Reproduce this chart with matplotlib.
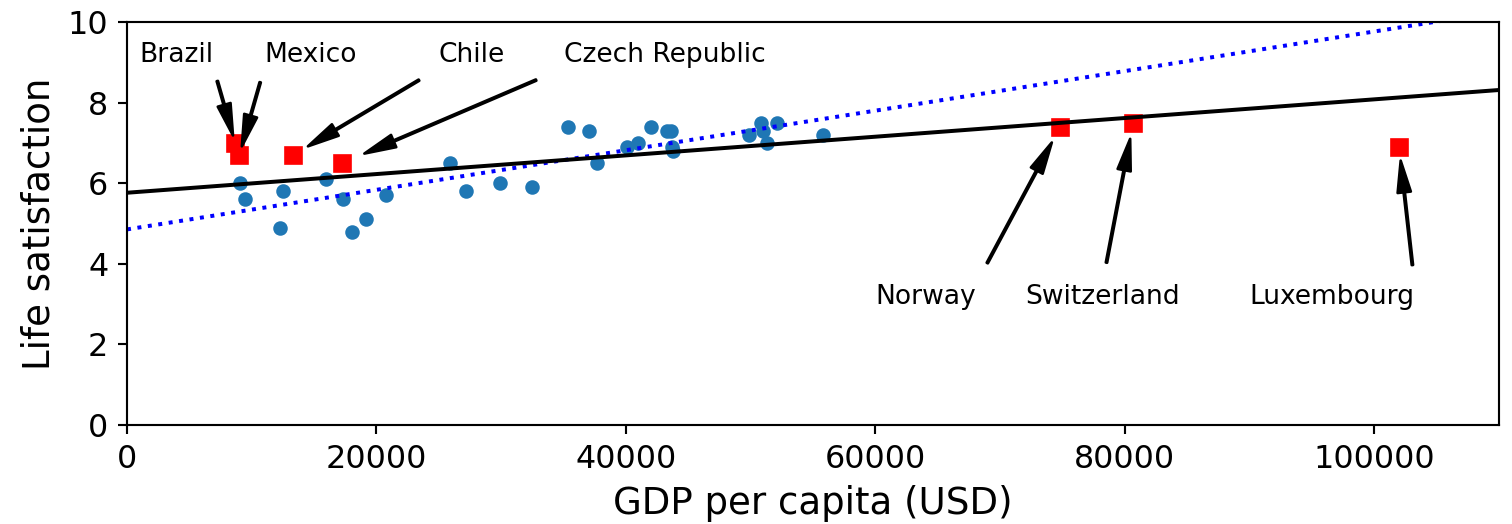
import numpy as np
import matplotlib.pyplot as plt

plt.rcParams['axes.labelsize'] = 14
plt.rcParams['xtick.labelsize'] = 12
plt.rcParams['ytick.labelsize'] = 12

# countries used to fit the first model
sample_gdp = [9054.914, 9437.372, 12239.894, 12495.334, 15991.736, 17288.083,
              18064.288, 19121.592, 20732.482, 25864.721, 27195.197, 29866.581,
              32485.545, 35343.336, 37044.891, 37675.006, 40106.632, 40996.511,
              41973.988, 43331.961, 43603.115, 43724.031, 43770.688, 49866.266,
              50854.583, 50961.865, 51350.744, 52114.165, 55805.204]
sample_life = [6.0, 5.6, 4.9, 5.8, 6.1, 5.6, 4.8, 5.1, 5.7, 6.5, 5.8, 6.0,
               5.9, 7.4, 7.3, 6.5, 6.9, 7.0, 7.4, 7.3, 7.3, 6.9, 6.8, 7.2,
               7.5, 7.3, 7.0, 7.5, 7.2]

# countries left out of the sample
missing_names = ["Brazil", "Mexico", "Chile", "Czech Republic",
                 "Norway", "Switzerland", "Luxembourg"]
missing_gdp = [8669.998, 9009.280, 13340.905, 17256.918,
               74822.106, 80675.308, 101994.093]
missing_life = [7.0, 6.7, 6.7, 6.5, 7.4, 7.5, 6.9]
text_pos = [(1000, 9.0), (11000, 9.0), (25000, 9.0), (35000, 9.0),
            (60000, 3.0), (72000, 3.0), (90000, 3.0)]

dpi = 191
fig = plt.figure(figsize=(1512 / dpi, 524 / dpi), dpi=dpi)
ax = fig.add_axes([0.084, 0.189, 0.9074, 0.769])

ax.scatter(sample_gdp, sample_life, s=20, color='C0')
ax.axis([0, 110000, 0, 10])

for name, x, y, pos in zip(missing_names, missing_gdp, missing_life, text_pos):
    ax.annotate(name, xy=(x, y), xytext=pos,
                arrowprops=dict(facecolor='black', width=0.5, shrink=0.1, headwidth=5))
    ax.plot(x, y, "rs")

# linear fits: sample only (dotted) and all countries (solid)
t1, t0 = np.polyfit(sample_gdp, sample_life, 1)
t1full, t0full = np.polyfit(sample_gdp + missing_gdp, sample_life + missing_life, 1)
X = np.linspace(0, 110000, 1000)
ax.plot(X, t0 + t1 * X, "b:")
ax.plot(X, t0full + t1full * X, "k")

ax.set_xlabel("GDP per capita (USD)")
ax.set_ylabel("Life satisfaction")

fig.savefig("out.png", dpi=dpi)
